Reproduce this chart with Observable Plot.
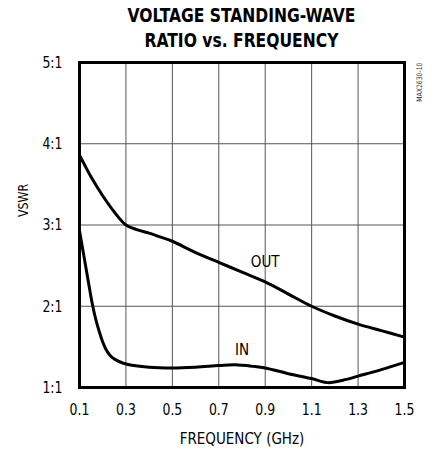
<!DOCTYPE html>
<html><head><meta charset="utf-8">
<script src="https://cdn.jsdelivr.net/npm/d3@7"></script>
<script src="https://cdn.jsdelivr.net/npm/@observablehq/plot@0.6"></script>
<style>
body{margin:0;background:#fff;}
#wrap{position:relative;width:425px;height:449px;font-family:"Liberation Sans Narrow","DejaVu Sans Condensed","Liberation Sans",sans-serif;color:#000;}
#title{position:absolute;left:58px;width:367px;top:3px;text-align:center;font-weight:900;font-size:19px;line-height:25px;transform:scaleX(0.91);transform-origin:50% 50%;}
#chart{position:absolute;left:0;top:50px;}
</style></head><body>
<div id="wrap"><div id="title">VOLTAGE STANDING-WAVE<br>RATIO vs. FREQUENCY</div><div id="chart"></div></div>
<script>
const xTicks = [0.1, 0.3, 0.5, 0.7, 0.9, 1.1, 1.3, 1.5];
const yTicks = [1, 2, 3, 4, 5];
const xGrid = [0.3, 0.5, 0.7, 0.9, 1.1, 1.3];
const yGrid = [2, 3, 4];

const outFreq = [0.1, 0.12, 0.15, 0.2, 0.25, 0.3, 0.35, 0.4, 0.45, 0.5, 0.6, 0.7, 0.8, 0.9, 1.0, 1.1, 1.2, 1.3, 1.4, 1.5];
const outVswr = [3.86, 3.75, 3.59, 3.36, 3.16, 3.0, 2.94, 2.9, 2.85, 2.8, 2.66, 2.54, 2.42, 2.3, 2.15, 2.0, 1.88, 1.78, 1.7, 1.62];

const inFreq = [0.1, 0.12, 0.14, 0.155, 0.17, 0.187, 0.2, 0.212, 0.23, 0.25, 0.27, 0.3, 0.4, 0.5, 0.6, 0.7, 0.77, 0.85, 0.9, 1.0, 1.1, 1.17, 1.25, 1.3, 1.4, 1.5];
const inVswr = [2.93, 2.6, 2.27, 2.03, 1.84, 1.67, 1.56, 1.48, 1.4, 1.35, 1.32, 1.29, 1.25, 1.24, 1.25, 1.27, 1.28, 1.26, 1.24, 1.17, 1.11, 1.06, 1.1, 1.14, 1.22, 1.31];

const labelText = ["OUT", "IN"];
const labelFreq = [0.9, 0.8];
const labelVswr = [2.55, 1.47];

const font = '"Liberation Sans Narrow","DejaVu Sans Condensed","Liberation Sans",sans-serif';
const outData = outFreq.map((f, i) => ({f, v: outVswr[i]}));
const inData = inFreq.map((f, i) => ({f, v: inVswr[i]}));
const labels = labelText.map((t, i) => ({t, f: labelFreq[i], v: labelVswr[i]}));

const chart = Plot.plot({
  width: 425, height: 399,
  marginLeft: 79, marginRight: 21, marginTop: 12, marginBottom: 62,
  style: {fontFamily: font, fontSize: "16px", color: "#000", background: "#fff", overflow: "visible"},
  x: {domain: [0.1, 1.5]},
  y: {domain: [1, 5]},
  marks: [
    Plot.ruleX(xGrid, {stroke: "#555", strokeWidth: 1}),
    Plot.ruleY(yGrid, {stroke: "#555", strokeWidth: 1}),
    Plot.line(outData, {x: "f", y: "v", curve: "catmull-rom", stroke: "#000", strokeWidth: 3}),
    Plot.line(inData, {x: "f", y: "v", curve: "catmull-rom", stroke: "#000", strokeWidth: 3}),
    Plot.frame({stroke: "#000", strokeWidth: 3}),
    Plot.axisX({ticks: xTicks, tickSize: 0, tickPadding: 16, tickFormat: d => d.toFixed(1), label: "FREQUENCY (GHz)", labelAnchor: "center", labelArrow: "none", labelOffset: 56, fontSize: 16.5}),
    Plot.axisY({ticks: yTicks, tickSize: 0, tickPadding: 17, tickFormat: d => d + ":1", label: null, fontSize: 16.5}),
    Plot.text(["VSWR"], {frameAnchor: "left", dx: -56, dy: -8, rotate: -90, fontSize: 13.5, fill: "#000"}),
    Plot.text(["MAX2630-10"], {frameAnchor: "top-right", dx: 11.7, rotate: -90, textAnchor: "end", fontSize: 7.5, fill: "#333"}),
    Plot.text(labels, {x: "f", y: "v", text: "t", fontSize: 16.5, fill: "#000"})
  ]
});

// condense glyphs horizontally to mimic the narrow typeface of the original
function condense(sel, s) {
  sel.each(function () {
    const t = this.getAttribute("transform");
    if (t) this.setAttribute("transform", t + ` scale(${s},1)`);
    else {
      const x = +this.getAttribute("x") || 0;
      this.setAttribute("transform", `translate(${x},0) scale(${s},1) translate(${-x},0)`);
    }
  });
}
const svg = d3.select(chart);
condense(svg.selectAll('g[aria-label="x-axis tick label"] text, g[aria-label="y-axis tick label"] text'), 0.84);
condense(svg.selectAll('g[aria-label="x-axis label"] text, g[aria-label="text"] text'), 0.91);
document.getElementById("chart").appendChild(chart);
</script>
</body></html>
